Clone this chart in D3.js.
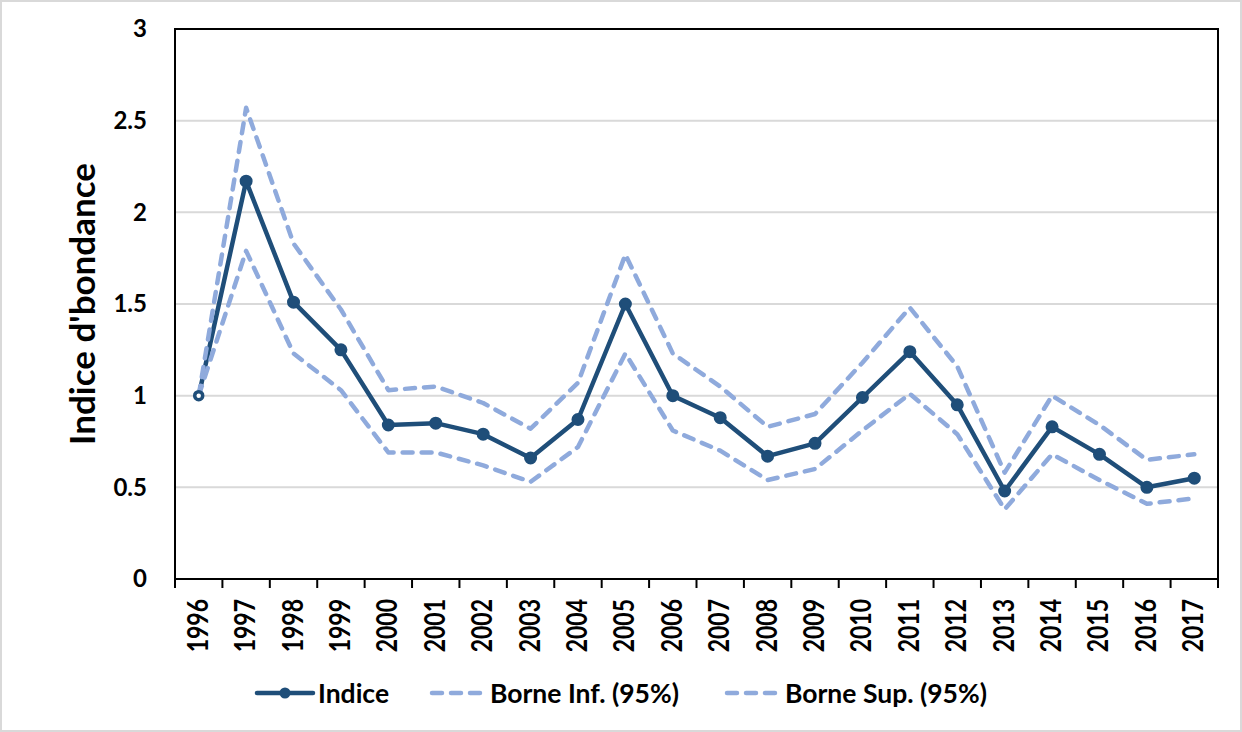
<!DOCTYPE html>
<html>
<head>
<meta charset="utf-8">
<script src="https://cdn.jsdelivr.net/npm/d3@7"></script>
<style>
  html, body { margin: 0; padding: 0; background: #fff; }
  svg { display: block; }
  text { font-family: Lato, "Open Sans", sans-serif; font-weight: 700; fill: #000; }
</style>
</head>
<body>
<svg id="chart" width="1242" height="732"></svg>
<script>
const years = ["1996","1997","1998","1999","2000","2001","2002","2003","2004","2005","2006","2007","2008","2009","2010","2011","2012","2013","2014","2015","2016","2017"];
const indice = [1.00,2.17,1.51,1.25,0.84,0.85,0.79,0.66,0.87,1.50,1.00,0.88,0.67,0.74,0.99,1.24,0.95,0.48,0.83,0.68,0.50,0.55];
const borneInf = [1.00,1.79,1.23,1.03,0.69,0.69,0.62,0.53,0.72,1.23,0.81,0.70,0.54,0.60,0.81,1.01,0.79,0.38,0.68,0.54,0.41,0.44];
const borneSup = [1.00,2.57,1.83,1.47,1.03,1.05,0.96,0.82,1.07,1.77,1.23,1.05,0.83,0.90,1.18,1.48,1.16,0.58,1.00,0.84,0.65,0.68];
const yTicks = [0, 0.5, 1, 1.5, 2, 2.5, 3];
const yTickLabels = ["0", "0.5", "1", "1.5", "2", "2.5", "3"];
const seriesNames = ["Indice", "Borne Inf. (95%)", "Borne Sup. (95%)"];
const yTitle = "Indice d'bondance";

const dark = "#1F4E79", light = "#8FAADC";
const svg = d3.select("#chart");
const W = 1242, H = 732;
const m = {left: 175, right: 1218, top: 29, bottom: 579};

// outer border
svg.append("rect").attr("x", 1).attr("y", 1).attr("width", W - 2).attr("height", H - 2)
  .attr("fill", "#fff").attr("stroke", "#d9d9d9").attr("stroke-width", 2);

const x = d3.scaleBand().domain(years).range([m.left, m.right]).padding(0);
const y = d3.scaleLinear().domain([0, 3]).range([m.bottom, m.top]);
const cx = d => x(d) + x.bandwidth() / 2;

// gridlines
svg.append("g").selectAll("line").data(yTicks.filter(t => t > 0)).join("line")
  .attr("x1", m.left).attr("x2", m.right)
  .attr("y1", d => y(d)).attr("y2", d => y(d))
  .attr("stroke", "#d9d9d9").attr("stroke-width", 2);

// plot border
svg.append("rect").attr("x", m.left).attr("y", m.top)
  .attr("width", m.right - m.left).attr("height", m.bottom - m.top)
  .attr("fill", "none").attr("stroke", "#000").attr("stroke-width", 2);

// y axis labels
const yAxis = d3.axisLeft(y).tickValues(yTicks).tickFormat((d, i) => yTickLabels[i]).tickSize(0).tickPadding(28);
const gy = svg.append("g").attr("transform", `translate(${m.left},0)`).call(yAxis);
gy.select(".domain").remove();
gy.selectAll("text").style("font-size", "24px").style("font-family", "Lato").style("font-weight", 700).attr("fill", "#000");

// x axis
const xAxis = d3.axisBottom(x).tickSize(0).tickPadding(0);
const gx = svg.append("g").attr("transform", `translate(0,${m.bottom})`).call(xAxis);
gx.select(".domain").remove();
gx.selectAll("text")
  .style("font-size", "23px").style("font-family", "Lato").style("font-weight", 700).attr("fill", "#000")
  .attr("text-anchor", "end").attr("dy", null).attr("y", 0)
  .attr("transform", "translate(9,20) rotate(-90) scale(1,1.2)");
// tick marks between categories
const bounds = years.map(d => x(d)).concat([m.right]);
svg.append("g").selectAll("line").data(bounds).join("line")
  .attr("x1", d => d).attr("x2", d => d)
  .attr("y1", m.bottom).attr("y2", m.bottom + 9)
  .attr("stroke", "#000").attr("stroke-width", 2);

// y title
svg.append("text")
  .attr("transform", `translate(95,304) rotate(-90)`)
  .attr("text-anchor", "middle")
  .style("font-size", "35px")
  .text(yTitle);

// lines
const lineGen = d3.line().x((d, i) => cx(years[i])).y(d => y(d));

svg.append("path").datum(indice).attr("d", lineGen)
  .attr("fill", "none").attr("stroke", dark).attr("stroke-width", 4.5).attr("stroke-linejoin", "round");

[borneInf, borneSup].forEach(s => {
  svg.append("path").datum(s).attr("d", lineGen)
    .attr("fill", "none").attr("stroke", light).attr("stroke-width", 4.5)
    .attr("stroke-dasharray", "10,9").attr("stroke-linecap", "round").attr("stroke-linejoin", "round");
});

svg.append("g").selectAll("circle").data(indice).join("circle")
  .attr("cx", (d, i) => cx(years[i])).attr("cy", d => y(d))
  .attr("r", (d, i) => i === 0 ? 4 : 5.5)
  .attr("fill", (d, i) => i === 0 ? "#fff" : dark).attr("stroke", dark)
  .attr("stroke-width", (d, i) => i === 0 ? 3.5 : 2);

// legend
const legY = 693;
const legend = [
  {name: seriesNames[0], x1: 257, x2: 313, tx: 318, dash: null, color: dark, marker: true},
  {name: seriesNames[1], x1: 432, x2: 484, tx: 490, dash: "10,9", color: light, marker: false},
  {name: seriesNames[2], x1: 727, x2: 779, tx: 785, dash: "10,9", color: light, marker: false}
];
legend.forEach(l => {
  svg.append("line").attr("x1", l.x1).attr("x2", l.x2).attr("y1", legY).attr("y2", legY)
    .attr("stroke", l.color).attr("stroke-width", 4.5)
    .attr("stroke-dasharray", l.dash).attr("stroke-linecap", "round");
  if (l.marker) svg.append("circle").attr("cx", (l.x1 + l.x2) / 2).attr("cy", legY).attr("r", 5.5).attr("fill", l.color);
  svg.append("text").attr("x", l.tx).attr("y", legY).attr("dy", "0.36em")
    .style("font-size", "26.5px").text(l.name);
});
</script>
</body>
</html>
